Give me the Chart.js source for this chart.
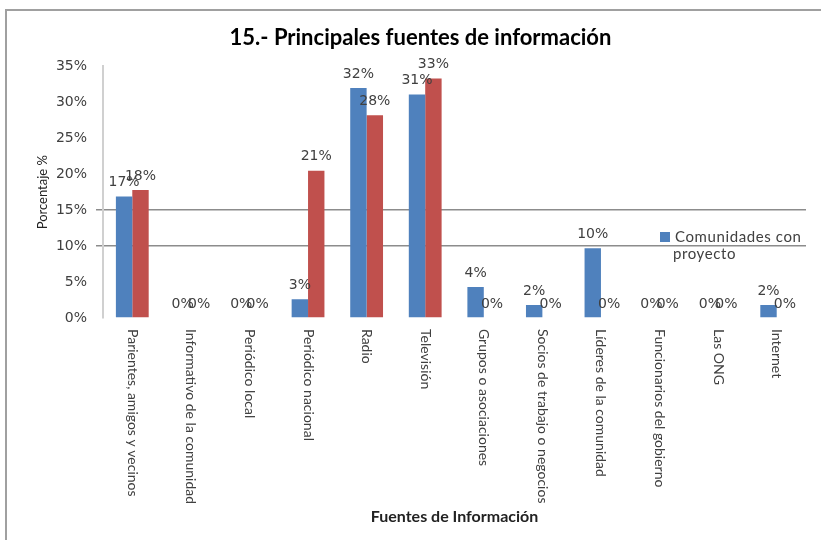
<!DOCTYPE html>
<html>
<head>
<meta charset="utf-8">
<script src="https://cdn.jsdelivr.net/npm/chart.js@4/dist/chart.umd.min.js"></script>
<style>
  html, body { margin: 0; padding: 0; background: #fff; }
  #wrap { position: relative; width: 821px; height: 540px; }
  #frame { position: absolute; left: 5px; top: 9px; right: 0; bottom: 0;
    border-top: 2px solid #a0a0a0; border-left: 2px solid #a0a0a0; pointer-events: none; }
  #legend { position: absolute; left: 660px; top: 228px; font: 15px Lato, sans-serif; letter-spacing: 0.6px;
    color: #404040; line-height: 17px; }
  #legend i { display: inline-block; width: 10px; height: 10px; background: #4F81BD; margin-right: 5px; }
  #legend span { display: block; padding-left: 13px; }
</style>
</head>
<body>
<div id="wrap">
  <canvas id="c" width="821" height="540"></canvas>
  <div id="frame"></div>
  <div id="legend"><i></i>Comunidades con<span>proyecto</span></div>
</div>
<script>
// 15.- Principales fuentes de información — barras agrupadas, % por fuente
const categorias = [
  "Parientes, amigos y vecinos", "Informativo de la comunidad", "Periódico local",
  "Periódico nacional", "Radio", "Televisión", "Grupos o asociaciones",
  "Socios de trabajo o negocios", "Líderes de la comunidad", "Funcionarios del gobierno",
  "Las ONG", "Internet",
];
const conProyecto = [16.9, 0, 0, 2.6, 32.0, 31.1, 4.3, 1.8, 9.7, 0, 0, 1.8];
const sinProyecto = [17.8, 0, 0, 20.5, 28.2, 33.3, 0, 0, 0, 0, 0, 0];
const yTicks = [0, 5, 10, 15, 20, 25, 30, 35];
const lineasGuia = [10, 15];

const FONT = "Lato, sans-serif";
const NUM_FONT = "'DejaVu Sans', sans-serif";
const COL = { blue: "#4F81BD", red: "#C0504D", text: "#404040", grid: "#8c8c8c", axis: "#d0d0d0" };

// etiquetas de valor encima de cada barra
const valueLabels = {
  id: "valueLabels",
  afterDatasetsDraw(chart) {
    const { ctx } = chart;
    ctx.save();
    ctx.font = "14px " + NUM_FONT;
    ctx.fillStyle = COL.text;
    ctx.textAlign = "center";
    ctx.textBaseline = "bottom";
    chart.data.datasets.forEach((ds, i) => {
      chart.getDatasetMeta(i).data.forEach((bar, j) => {
        ctx.fillText(Math.round(ds.data[j]) + "%", bar.x, bar.y - 7);
      });
    });
    ctx.restore();
  },
};

// categorías giradas 90° (leen de arriba hacia abajo)
const catLabels = {
  id: "catLabels",
  afterDraw(chart) {
    const { ctx } = chart;
    const x = chart.scales.x;
    ctx.save();
    ctx.font = "14px " + FONT;
    ctx.fillStyle = COL.text;
    ctx.textAlign = "left";
    ctx.textBaseline = "middle";
    categorias.forEach((c, i) => {
      ctx.save();
      ctx.translate(x.getPixelForValue(i), chart.chartArea.bottom + 11);
      ctx.rotate(Math.PI / 2);
      ctx.fillText(c, 0, 0);
      ctx.restore();
    });
    ctx.restore();
  },
};

new Chart(document.getElementById("c"), {
  type: "bar",
  data: {
    labels: categorias,
    datasets: [
      { label: "Comunidades con proyecto", data: conProyecto, backgroundColor: COL.blue },
      { label: "Comunidades sin proyecto", data: sinProyecto, backgroundColor: COL.red },
    ],
  },
  options: {
    responsive: false, animation: false,
    layout: { padding: { top: 0, right: 15, bottom: 0, left: 35 } },
    categoryPercentage: 0.56, barPercentage: 1,
    plugins: {
      legend: { display: false },
      tooltip: { enabled: false },
      title: {
        display: true, text: "15.- Principales fuentes de información",
        color: "#000", font: { family: FONT, size: 22, weight: "bold" },
        padding: { top: 25, bottom: 15 },
      },
    },
    scales: {
      x: {
        grid: { display: false }, border: { display: false },
        ticks: { display: false },
        afterFit: (s) => { s.height = 222; },
        title: {
          display: true, text: "Fuentes de Información", color: "#222",
          font: { family: FONT, size: 16, weight: "bold" }, padding: { top: 4, bottom: 14 },
        },
      },
      y: {
        min: 0, max: 35,
        afterBuildTicks: (s) => { s.ticks = yTicks.map((v) => ({ value: v })); },
        afterFit: (s) => { s.width = 68; },
        border: { display: true, color: COL.axis, width: 2 },
        grid: {
          color: (c) => (lineasGuia.includes(c.tick && c.tick.value) ? COL.grid : "rgba(0,0,0,0)"),
          tickLength: 7, lineWidth: 1.5,
        },
        ticks: {
          color: COL.text, font: { family: NUM_FONT, size: 14 }, padding: 9,
          callback: (v) => v + "%",
        },
        title: {
          display: true, text: "Porcentaje %", color: "#222",
          font: { family: FONT, size: 13 }, padding: 0,
        },
      },
    },
  },
  plugins: [valueLabels, catLabels],
});
</script>
</body>
</html>
